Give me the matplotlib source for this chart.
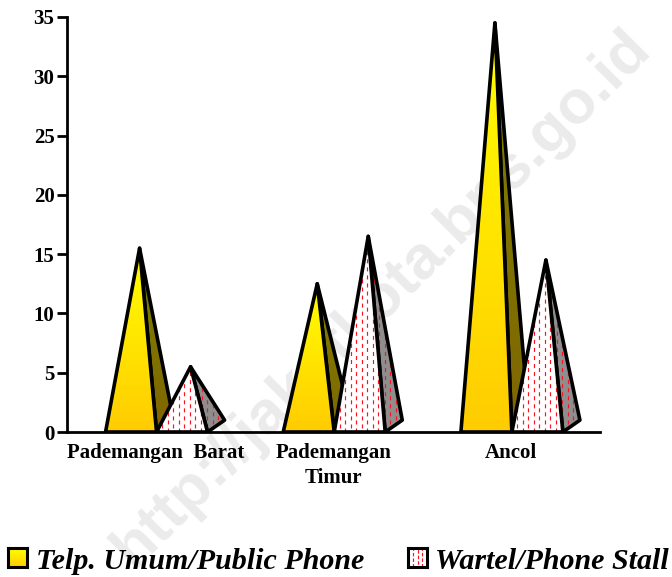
import numpy as np
import matplotlib
matplotlib.use("Agg")
import matplotlib.pyplot as plt
from matplotlib.colors import LinearSegmentedColormap
from matplotlib.patches import Polygon

categories = ["Pademangan  Barat", "Pademangan\nTimur", "Ancol"]
public_phone = [15, 12, 34]
phone_stall = [5, 16, 14]
yticks = [0, 5, 10, 15, 20, 25, 30, 35]
legend_labels = ["Telp. Umum/Public Phone", "Wartel/Phone Stall"]
watermark = "http://jakutkota.bps.go.id"

bar_w = 0.287
depth_x = 0.096
depth_y = 1.0
dash_step = 0.031

plt.rcParams["font.family"] = ["Liberation Serif", "DejaVu Serif"]
plt.rcParams["lines.scale_dashes"] = False

yellow = LinearSegmentedColormap.from_list("yellow", ["#ffcc00", "#ffff00"])
olive = LinearSegmentedColormap.from_list("olive", ["#7f6600", "#808000"])
white = LinearSegmentedColormap.from_list("white", ["#ffffff", "#ffffff"])
grey = LinearSegmentedColormap.from_list("grey", ["#8e8e8e", "#8e8e8e"])
grad = np.linspace(1, 0, 64).reshape(-1, 1)


def face(ax, pts, cmap, dashed, z):
    ys = [p[1] for p in pts]
    xs = [p[0] for p in pts]
    poly = ax.add_patch(Polygon(pts, closed=True, fc="none", ec="black", lw=2.6,
                                joinstyle="round", zorder=z + 0.2))
    im = ax.imshow(grad, cmap=cmap, vmin=0, vmax=1, aspect="auto", zorder=z,
                   extent=(min(xs), max(xs), min(ys), max(ys)))
    im.set_clip_path(poly)
    if dashed:
        for n, x in enumerate(np.arange(min(xs), max(xs), dash_step)):
            off = 0 if n % 2 == 0 else 2.9
            line, = ax.plot([x, x], [0, max(ys)], color="#ff1020", lw=0.85, zorder=z + 0.1,
                            linestyle=(off, (2.9, 2.9)), dash_capstyle="butt")
            line.set_clip_path(poly)


def pyramid(ax, left, value, front, side, dashed, z):
    right = left + bar_w
    apex = (left + bar_w / 2 + depth_x / 2, value + depth_y / 2)
    face(ax, [(right, 0), (right + depth_x, depth_y), apex], side, dashed, z)
    face(ax, [(left, 0), (right, 0), apex], front, dashed, z + 1)


fig = plt.figure(figsize=(6.72, 5.77), dpi=100)
ax = fig.add_axes([67 / 672, (577 - 432) / 577, (600 - 67) / 672, (432 - 17) / 577], zorder=2)
ax.patch.set_alpha(0)

for i in range(len(categories)):
    pyramid(ax, i - bar_w + 0.004, public_phone[i], yellow, olive, False, 2 + i * 4)
    pyramid(ax, i + 0.004, phone_stall[i], white, grey, True, 4 + i * 4)

ax.set_xlim(-0.5, 2.5)
ax.set_ylim(0, 35)
ax.set_xticks(range(len(categories)))
ax.set_xticklabels(categories, fontsize=15, fontweight="bold", linespacing=1.3)
ax.set_yticks(yticks)
ax.tick_params(axis="x", length=0, pad=8)
ax.tick_params(axis="y", length=7, width=2, labelsize=15, pad=2)
for label in ax.get_yticklabels():
    label.set_fontweight("bold")
ax.spines["top"].set_visible(False)
ax.spines["right"].set_visible(False)
for side in ("left", "bottom"):
    ax.spines[side].set_linewidth(2)
    ax.spines[side].set_zorder(30)

# legend swatches and labels
sw1 = fig.add_axes([8 / 672, (577 - 567) / 577, 19 / 672, 19 / 577], zorder=2)
sw1.imshow(grad, cmap=yellow, vmin=0, vmax=1, aspect="auto")
sw2 = fig.add_axes([408 / 672, (577 - 567) / 577, 19 / 672, 19 / 577], zorder=2)
sw2.set_xlim(0, 1)
sw2.set_ylim(0, 1)
for n, x in enumerate((0.25, 0.5, 0.75)):
    sw2.plot([x, x], [0, 1], color="#ff1020", lw=0.85, linestyle=(n * 2, (2.5, 1.5)))
for sw in (sw1, sw2):
    sw.set_xticks([])
    sw.set_yticks([])
    for s in sw.spines.values():
        s.set_linewidth(2.2)
fig.text(36 / 672, (577 - 569) / 577, legend_labels[0], fontsize=21.6, style="italic",
         fontweight="bold", va="baseline", zorder=5)
fig.text(435 / 672, (577 - 569) / 577, legend_labels[1], fontsize=21.6, style="italic",
         fontweight="bold", va="baseline", zorder=5)

# watermark sits behind the axes
fig.text(382 / 672, (577 - 298) / 577, watermark, fontsize=44.5, color="#ebebeb",
         rotation=45, ha="center", va="center", fontweight="bold",
         family=["Liberation Sans"], rotation_mode="anchor", zorder=0)

fig.savefig("out.png", dpi=100)
